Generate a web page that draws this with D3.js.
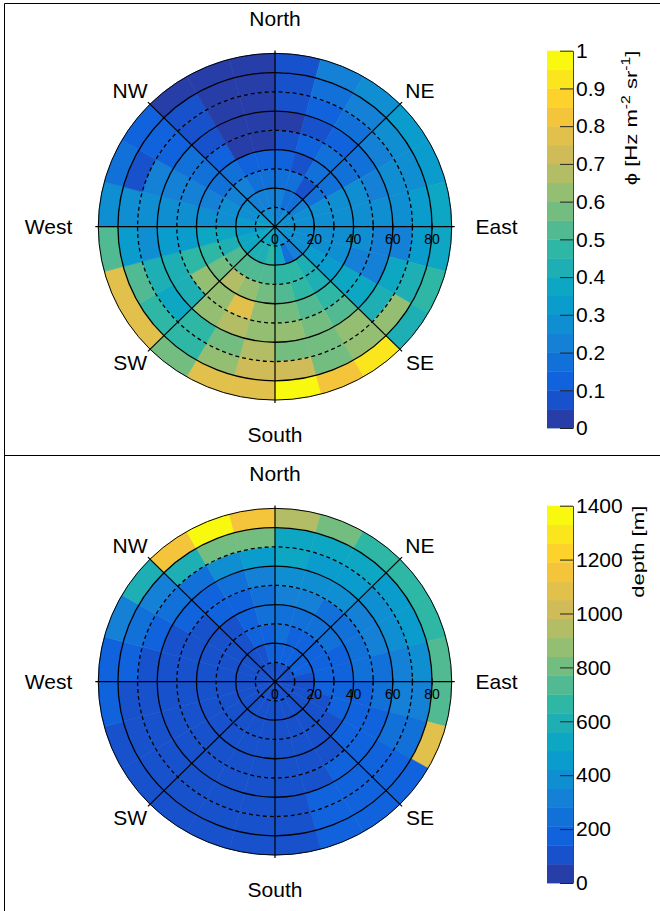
<!DOCTYPE html>
<html>
<head>
<meta charset="utf-8">
<script src="https://cdn.jsdelivr.net/npm/d3@7"></script>
<style>
  body { margin: 0; background: #fff; }
  text { font-family: "Liberation Sans", Arial, Helvetica, sans-serif; fill: #000; }
</style>
</head>
<body>
<div id="main"></div>
<script>
// bins: zenith rings of 10 deg, azimuth sectors of 15 deg (compass, clockwise from North)
const zenithBins = [0, 10, 20, 30, 40, 50, 60, 70, 80]
const azimuthBins = [0, 15, 30, 45, 60, 75, 90, 105, 120, 135, 150, 165,
                     180, 195, 210, 225, 240, 255, 270, 285, 300, 315, 330, 345]

// upper pad: flux phi [Hz m^-2 sr^-1], one array per zenith ring
const flux00 = [0.22,0.23,0.26,0.27,0.28,0.27,0.31,0.28,0.27,0.26,0.28,0.33,0.37,0.38,0.37,0.36,0.37,0.33,0.36,0.32,0.31,0.28,0.27,0.26]
const flux10 = [0.22,0.18,0.19,0.21,0.26,0.28,0.27,0.26,0.27,0.22,0.17,0.37,0.47,0.43,0.42,0.38,0.36,0.33,0.32,0.28,0.26,0.23,0.22,0.21]
const flux20 = [0.18,0.16,0.08,0.17,0.26,0.28,0.27,0.28,0.32,0.42,0.46,0.48,0.52,0.53,0.54,0.51,0.43,0.37,0.28,0.26,0.23,0.21,0.18,0.17]
const flux30 = [0.13,0.08,0.17,0.18,0.26,0.27,0.28,0.26,0.32,0.43,0.47,0.52,0.58,0.62,0.67,0.57,0.48,0.38,0.27,0.22,0.18,0.16,0.12,0.13]
const flux40 = [0.08,0.12,0.16,0.18,0.27,0.28,0.26,0.22,0.38,0.47,0.53,0.57,0.62,0.78,0.63,0.61,0.47,0.33,0.27,0.21,0.17,0.12,0.04,0.04]
const flux50 = [0.03,0.08,0.13,0.17,0.22,0.27,0.23,0.21,0.37,0.52,0.57,0.62,0.63,0.67,0.61,0.43,0.42,0.32,0.28,0.22,0.16,0.08,0.03,0.04]
const flux60 = [0.07,0.12,0.17,0.22,0.27,0.28,0.22,0.37,0.43,0.63,0.58,0.56,0.67,0.57,0.47,0.38,0.42,0.28,0.27,0.21,0.13,0.08,0.04,0.03]
const flux70 = [0.08,0.17,0.21,0.27,0.28,0.31,0.33,0.42,0.62,0.61,0.57,0.72,0.73,0.62,0.47,0.46,0.52,0.32,0.27,0.08,0.12,0.08,0.03,0.04]
const flux80 = [0.08,0.22,0.28,0.32,0.33,0.37,0.38,0.48,0.43,0.93,0.84,0.98,0.78,0.77,0.58,0.78,0.79,0.53,0.28,0.17,0.12,0.03,0.04,0.03]

// lower pad: rock depth [m]
const depth00 = [110,105,112,108,100,98,104,96,102,95,100,97,94,98,92,96,99,101,97,103,100,106,108,112]
const depth10 = [150,145,148,150,142,130,125,120,118,115,112,108,105,104,106,108,110,112,115,118,122,128,132,146]
const depth20 = [215,200,190,180,170,160,150,135,125,118,112,106,102,100,104,108,110,115,120,125,130,136,150,175]
const depth30 = [245,235,225,215,200,185,170,150,135,125,118,110,104,100,102,106,110,114,118,124,130,138,165,220]
const depth40 = [300,290,265,250,240,225,195,175,150,135,125,118,110,104,102,104,108,112,118,126,135,145,175,240]
const depth50 = [380,370,355,320,295,260,235,200,175,150,135,122,112,106,104,106,110,115,125,135,145,170,240,300]
const depth60 = [500,470,440,395,370,320,290,230,180,170,160,135,115,108,105,106,110,118,130,150,215,250,370,440]
const depth70 = [520,515,500,470,450,380,310,240,185,175,165,130,115,110,108,108,112,120,160,230,320,585,800,805]
const depth80 = [935,790,680,650,645,710,735,1085,180,175,165,130,115,112,110,110,115,150,165,300,590,1160,1370,1170]

const radialTicks = [0, 20, 40, 60, 80]
const compassNames = ["North", "NE", "East", "SE", "South", "SW", "West", "NW"]
const compassAngles = [0, 45, 90, 135, 180, 225, 270, 315]

const fluxTicks = [0, 0.1, 0.2, 0.3, 0.4, 0.5, 0.6, 0.7, 0.8, 0.9, 1]
const fluxTickLabels = ["0", "0.1", "0.2", "0.3", "0.4", "0.5", "0.6", "0.7", "0.8", "0.9", "1"]
const depthTicks = [0, 200, 400, 600, 800, 1000, 1200, 1400]
const depthTickLabels = ["0", "200", "400", "600", "800", "1000", "1200", "1400"]

// ROOT kBird palette
const birdStops = [0.0000, 0.1250, 0.2500, 0.3750, 0.5000, 0.6250, 0.7500, 0.8750, 1.0000]
const birdRed   = [0.2082, 0.0592, 0.0780, 0.0232, 0.1802, 0.5301, 0.8186, 0.9956, 0.9764]
const birdGreen = [0.1664, 0.3599, 0.5041, 0.6419, 0.7178, 0.7492, 0.7328, 0.7862, 0.9832]
const birdBlue  = [0.5293, 0.8684, 0.8385, 0.7914, 0.6425, 0.4662, 0.3499, 0.1968, 0.0539]

const birdScale = d3.scaleLinear()
  .domain(birdStops)
  .range(birdStops.map((s, i) => d3.rgb(birdRed[i] * 255, birdGreen[i] * 255, birdBlue[i] * 255)))
  .interpolate(d3.interpolateRgb)
const nBands = 20
const bandColors = d3.range(nBands).map(i => birdScale(Math.floor((i + 0.99) * 255 / nBands) / 255))

const W = 660, H = 911
const svg = d3.select('div#main').append('svg')
  .attr('width', W)
  .attr('height', H)

const R = 176.7
const rScale = d3.scaleLinear().domain([0, 90]).range([0, R])
const rad = (d) => d * Math.PI / 180

const pads = [
  {cy: 226.7, barTop: 50.7, barBottom: 428, rings: [flux00, flux10, flux20, flux30, flux40, flux50, flux60, flux70, flux80],
   zMax: 1, ticks: fluxTicks, tickLabels: fluxTickLabels, titleX: 637},
  {cy: 681.7, barTop: 505.7, barBottom: 883, rings: [depth00, depth10, depth20, depth30, depth40, depth50, depth60, depth70, depth80],
   zMax: 1400, ticks: depthTicks, tickLabels: depthTickLabels, titleX: 644}
]

// label distance from centre: cardinal points sit a bit further out than diagonals
const labelX = (a) => Math.sin(rad(a)) * (a % 90 !== 0 ? 205 : (a === 270 ? 226.5 : 221.5))
const labelY = (a) => -Math.cos(rad(a)) * (a % 90 === 0 ? 208 : 192) + 7.5

// pad frames
svg.append('path')
  .attr('d', 'M4.5,911 V3.5 H680 M4.5,455.5 H680')
  .attr('fill', 'none')
  .attr('stroke', '#000')
  .attr('stroke-width', 1)

pads.forEach((pad, p) => {
  const color = d3.scaleQuantize().domain([0, pad.zMax]).range(bandColors)

  const cells = []
  pad.rings.forEach((ring, i) => {
    ring.forEach((v, j) => cells.push({z0: zenithBins[i], a0: azimuthBins[j], v: v}))
  })

  const arc = d3.arc()
    .innerRadius(d => rScale(d.z0))
    .outerRadius(d => rScale(d.z0 + 10))
    .startAngle(d => rad(d.a0))
    .endAngle(d => rad(d.a0 + 15))

  const polar = svg.append('g')
    .attr('transform', `translate(275,${pad.cy}) scale(1,0.981)`)

  polar.selectAll('path.cell')
    .data(cells)
    .enter()
    .append('path')
      .attr('class', 'cell')
      .attr('d', arc)
      .attr('fill', d => color(d.v))
      .attr('stroke', d => color(d.v))
      .attr('stroke-width', 0.6)

  // zenith circles, dashed at odd tens
  polar.selectAll('circle.grid')
    .data([10, 20, 30, 40, 50, 60, 70, 80, 90])
    .enter()
    .append('circle')
      .attr('class', 'grid')
      .attr('r', d => rScale(d))
      .attr('fill', 'none')
      .attr('stroke', '#000')
      .attr('stroke-width', d => d === 90 ? 1 : 1.3)
      .attr('stroke-dasharray', d => d % 20 === 10 && d !== 90 ? '4,3' : null)

  // spokes
  polar.selectAll('line.spoke')
    .data([0, 45, 90, 135])
    .enter()
    .append('line')
      .attr('class', 'spoke')
      .attr('x1', d => -Math.sin(rad(d)) * (R + 3))
      .attr('y1', d => Math.cos(rad(d)) * (R + 3))
      .attr('x2', d => Math.sin(rad(d)) * (R + 3))
      .attr('y2', d => -Math.cos(rad(d)) * (R + 3))
      .attr('stroke', '#000')
      .attr('stroke-width', 1.2)

  // small ticks along the east radius
  polar.selectAll('line.rtick')
    .data([10, 20, 30, 40, 50, 60, 70, 80])
    .enter()
    .append('line')
      .attr('class', 'rtick')
      .attr('x1', d => rScale(d))
      .attr('x2', d => rScale(d))
      .attr('y1', -3.5)
      .attr('y2', 3.5)
      .attr('stroke', '#000')
      .attr('stroke-width', 1)

  const labels = svg.append('g')
    .attr('transform', `translate(275,${pad.cy})`)

  labels.selectAll('text.rlab')
    .data(radialTicks)
    .enter()
    .append('text')
      .attr('class', 'rlab')
      .attr('x', d => rScale(d))
      .attr('y', 17.6)
      .attr('text-anchor', 'middle')
      .attr('font-size', 14)
      .text(d => d)

  labels.selectAll('text.compass')
    .data(compassNames)
    .enter()
    .append('text')
      .attr('class', 'compass')
      .attr('x', (d, i) => labelX(compassAngles[i]))
      .attr('y', (d, i) => labelY(compassAngles[i]))
      .attr('text-anchor', 'middle')
      .attr('font-size', 21)
      .text(d => d)

  // colour bar
  const zScale = d3.scaleLinear().domain([0, pad.zMax]).range([pad.barBottom, pad.barTop])
  const bar = svg.append('g')
  bar.selectAll('rect')
    .data(bandColors)
    .enter()
    .append('rect')
      .attr('x', 547)
      .attr('width', 26)
      .attr('y', (d, i) => zScale((i + 1) * pad.zMax / nBands))
      .attr('height', (d, i) => zScale(i * pad.zMax / nBands) - zScale((i + 1) * pad.zMax / nBands) + 0.4)
      .attr('fill', d => d)

  const axis = svg.append('g')
    .attr('transform', 'translate(573,0)')
    .call(d3.axisRight(zScale)
      .tickValues(pad.ticks)
      .tickSizeInner(-13)
      .tickSizeOuter(0)
      .tickPadding(3)
      .tickFormat((d, i) => pad.tickLabels[i]))
  axis.attr('font-family', null).attr('font-size', null)
  axis.selectAll('text').attr('font-size', 21).attr('fill', '#000')
  axis.selectAll('line').attr('stroke', '#222')
  axis.select('.domain').attr('stroke', '#444')

  const title = svg.append('text')
    .attr('transform', `translate(${pad.titleX},${pad.barTop}) rotate(-90) scale(1.3,1)`)
    .attr('text-anchor', 'end')
    .attr('font-size', 17)
  if (p === 0) {
    title.append('tspan').text('\u03d5 [Hz m')
    title.append('tspan').attr('font-size', 12).attr('dy', -7).text('-2')
    title.append('tspan').attr('dy', 7).text(' sr')
    title.append('tspan').attr('font-size', 12).attr('dy', -7).text('-1')
    title.append('tspan').attr('dy', 7).text(']')
  } else {
    title.text('depth [m]')
  }
})
</script>
</body>
</html>
